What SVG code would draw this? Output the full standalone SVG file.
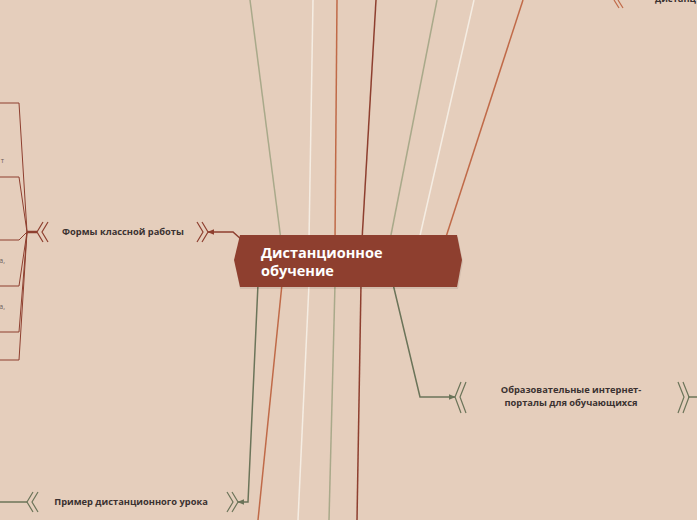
<svg xmlns="http://www.w3.org/2000/svg" width="697" height="520" viewBox="0 0 697 520">
<style>
.ln{fill:none;stroke-width:1.5;stroke-linejoin:miter}
.dg{stroke:#6b7459}
.gg{stroke:#a9a98a}
.or{stroke:#c06a48}
.cr{stroke:#f5ede3}
.dr{stroke:#8e3f2f}
.chev{fill:none;stroke-width:1.2}
.lbl{font-family:"Open Sans","DejaVu Sans",sans-serif;font-weight:700;font-size:9.3px;fill:#3b3231;text-anchor:middle}
.frag{font-family:"Open Sans","DejaVu Sans",sans-serif;font-size:7px;fill:#6e605a;text-anchor:end}
</style>
<defs>
<marker id="arDr" viewBox="0 0 10 10" refX="9" refY="5" markerWidth="7" markerHeight="7" orient="auto-start-reverse" markerUnits="userSpaceOnUse"><path d="M0,1 L10,5 L0,9 Z" fill="#8e3f2f"/></marker>
<marker id="arDg" viewBox="0 0 10 10" refX="9" refY="5" markerWidth="7" markerHeight="7" orient="auto-start-reverse" markerUnits="userSpaceOnUse"><path d="M0,1 L10,5 L0,9 Z" fill="#6b7459"/></marker>
</defs>
<rect width="697" height="520" fill="#e5cebc"/>
<g id="connectors">
<line class="ln gg" x1="250" y1="0" x2="281" y2="240"/>
<line class="ln cr" x1="313" y1="0" x2="309" y2="240"/>
<line class="ln or" x1="337" y1="0" x2="335" y2="240"/>
<line class="ln dr" x1="376" y1="0" x2="362" y2="240"/>
<line class="ln gg" x1="437" y1="0" x2="390" y2="240"/>
<line class="ln cr" x1="474" y1="0" x2="419" y2="240"/>
<line class="ln or" x1="523" y1="0" x2="445" y2="240"/>
<line class="ln or" x1="282" y1="284" x2="258" y2="520"/>
<line class="ln cr" x1="309" y1="284" x2="298" y2="520"/>
<line class="ln gg" x1="335" y1="284" x2="329" y2="520"/>
<line class="ln dr" x1="361" y1="284" x2="357" y2="520"/>
<polyline class="ln dg" points="258,284 248,502 238,502" marker-end="url(#arDg)"/>
<polyline class="ln dg" points="393,284 420,397 455,397" marker-end="url(#arDg)"/>
<polyline class="ln dr" points="242,240 233,232 208,232" marker-end="url(#arDr)"/>
<line class="ln dg" x1="0" y1="502" x2="27" y2="502"/>
<line class="ln dg" x1="688" y1="397" x2="697" y2="397"/>
<line class="dr" stroke-width="2.5" x1="27" y1="232" x2="37" y2="232"/>
<g class="dr" fill="none" stroke-width="1">
<polyline points="0,103 19,103 27,232"/>
<polyline points="0,177 19,177 27,232"/>
<polyline points="0,240 19,240 27,232"/>
<polyline points="0,286 19,286 27,232"/>
<polyline points="0,332 19,332 27,232"/>
<polyline points="0,360 19,360 27,232"/>
</g>
</g>
<g id="central">
<polygon points="240,237 458,237 463,262 458,289 240,289 235,262" fill="#000" opacity="0.08"/>
<polygon points="240,235 457,235 462,260 457,287 240,287 234,260" fill="#8e3f2f"/>
<text x="261" y="258" font-family="'Open Sans','DejaVu Sans',sans-serif" font-weight="700" font-size="14.5" fill="#ffffff">Дистанционное</text>
<text x="261" y="275.5" font-family="'Open Sans','DejaVu Sans',sans-serif" font-weight="700" font-size="14.5" fill="#ffffff">обучение</text>
</g>
<g id="node-forms">
<g class="chev dr">
<polyline points="43,222 37,232 43,242"/>
<polyline points="48,222 42,232 48,242"/>
<polyline points="197,222 203,232 197,242"/>
<polyline points="202,222 208,232 202,242"/>
</g>
<text class="lbl" x="123" y="235">Формы классной работы</text>
</g>
<g id="node-portals">
<g class="chev dg">
<polyline points="461,382 455,397 461,413"/>
<polyline points="466,382 460,397 466,413"/>
<polyline points="678,382 684,397 678,413"/>
<polyline points="683,382 689,397 683,413"/>
</g>
<text class="lbl" x="571" y="393">Образовательные интернет-</text>
<text class="lbl" x="571" y="405.5">порталы для обучающихся</text>
</g>
<g id="node-lesson">
<g class="chev dg">
<polyline points="33,492 27,502 33,512"/>
<polyline points="38,492 32,502 38,512"/>
<polyline points="227,492 233,502 227,512"/>
<polyline points="232,492 238,502 232,512"/>
</g>
<text class="lbl" x="131" y="505">Пример дистанционного урока</text>
</g>
<g id="node-topright">
<g class="chev or">
<line x1="614" y1="0" x2="619" y2="8"/>
<line x1="618" y1="0" x2="623" y2="8"/>
</g>
<text class="lbl" x="655" y="2" style="text-anchor:start">дистанц</text>
</g>
<g id="left-fragments">
<text class="frag" x="4" y="163">т</text>
<text class="frag" x="5" y="263">а,</text>
<text class="frag" x="5" y="309">а,</text>
</g>
</svg>
